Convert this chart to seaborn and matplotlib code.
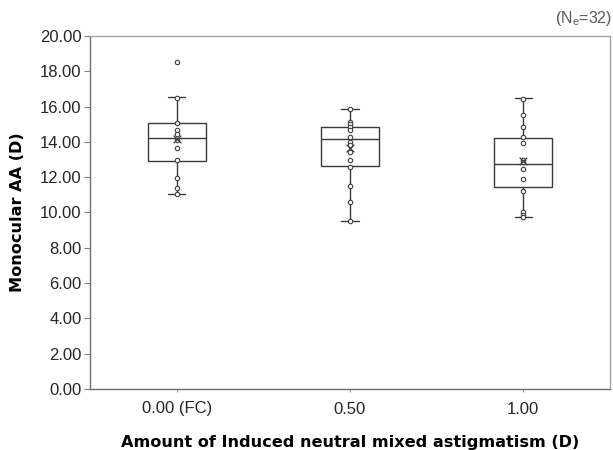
import matplotlib
matplotlib.use("Agg")
import matplotlib.pyplot as plt
import seaborn as sns
import pandas as pd

# ---------------- data ----------------
categories = ["0.00 (FC)", "0.50", "1.00"]

points_fc = [18.5, 16.5, 15.05, 14.7, 14.45, 14.1, 13.65, 12.95, 11.95, 11.4, 11.05]
points_050 = [15.85, 15.1, 15.0, 14.85, 14.7, 14.3, 14.0, 13.85, 13.45, 12.95, 12.55, 11.5, 10.6, 9.5]
points_100 = [16.45, 15.5, 14.85, 14.3, 13.95, 13.0, 12.85, 12.45, 11.9, 11.2, 10.05, 9.85, 9.75]

whisker_low = [11.07, 9.5, 9.76]
q1 = [12.93, 12.63, 11.43]
median = [14.2, 14.15, 12.73]
q3 = [15.05, 14.83, 14.2]
whisker_high = [16.54, 15.86, 16.47]
means = [14.16, 13.67, 12.9]

y_ticks = [0, 2, 4, 6, 8, 10, 12, 14, 16, 18, 20]

# ---------------- figure ----------------
sns.set_style("white")
plt.rcParams["font.family"] = ["Liberation Sans", "DejaVu Sans"]

fig = plt.figure(figsize=(6.13, 4.5), dpi=100)
ax = fig.add_axes([90 / 613, 1 - 389 / 450, 520 / 613, (389 - 36) / 450])

pts = pd.DataFrame({
    "group": [categories[0]] * len(points_fc) + [categories[1]] * len(points_050)
             + [categories[2]] * len(points_100),
    "AA": points_fc + points_050 + points_100,
})
mean_df = pd.DataFrame({"group": categories, "AA": means})

line_col = "#3a3a3a"
stats = []
for i, c in enumerate(categories):
    stats.append(dict(label=c, whislo=whisker_low[i], q1=q1[i], med=median[i],
                      q3=q3[i], whishi=whisker_high[i], mean=means[i]))

ax.bxp(stats, positions=range(len(categories)), widths=0.335, showfliers=False,
       showmeans=False, patch_artist=True, manage_ticks=False, capwidths=0.1,
       boxprops=dict(facecolor="white", edgecolor=line_col, linewidth=1.0),
       medianprops=dict(color=line_col, linewidth=1.0),
       whiskerprops=dict(color=line_col, linewidth=1.0),
       capprops=dict(color=line_col, linewidth=1.0), zorder=2)

sns.stripplot(data=pts, x="group", y="AA", order=categories, jitter=False,
              color="white", edgecolor="#404040", linewidth=0.8, size=3.2,
              ax=ax, zorder=4)
sns.stripplot(data=mean_df, x="group", y="AA", order=categories, jitter=False,
              marker="x", color="#404040", linewidth=0.9, size=5.5,
              ax=ax, zorder=5)

ax.set_xlim(-0.5, 2.5)
ax.set_ylim(0, 20)
ax.set_yticks(y_ticks)
ax.set_yticklabels([f"{v:.2f}" for v in y_ticks])
ax.set_xticks(range(len(categories)))
ax.set_xticklabels(categories)
ax.tick_params(axis="y", length=4, width=0.8, color="#808080", labelsize=12,
               labelcolor="#262626", pad=2, left=True)
ax.tick_params(axis="x", length=2, width=0.8, color="#a0a0a0", labelsize=12,
               labelcolor="#262626", pad=7, bottom=True)

for s in ["left", "bottom"]:
    ax.spines[s].set_color("#707070")
    ax.spines[s].set_linewidth(1.0)
for s in ["top", "right"]:
    ax.spines[s].set_color("#a6a6a6")
    ax.spines[s].set_linewidth(1.0)
    ax.spines[s].set_visible(True)

ax.set_xlabel("Amount of Induced neutral mixed astigmatism (D)", fontsize=11.6,
              fontweight="bold", family="DejaVu Sans", labelpad=13,
              color="black")
ax.set_ylabel("Monocular AA (D)", fontsize=11.6, fontweight="bold",
              family="DejaVu Sans", labelpad=11, color="black")

fig.text(0.999, 1 - 18 / 450, r"(N$_\mathregular{e}$=32)", ha="right", va="center",
         fontsize=11.5, color="#595959")

fig.savefig("out.png", dpi=100)
